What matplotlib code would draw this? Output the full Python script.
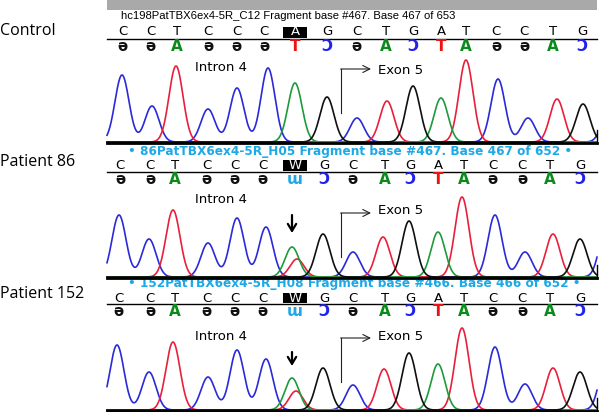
import numpy as np
import matplotlib.pyplot as plt
from matplotlib.patches import Rectangle

# ---------------- data ----------------
panel_labels = ["Control", "Patient 86", "Patient 152"]
headers = ["hc198PatTBX6ex4-5R_C12 Fragment base #467. Base 467 of 653",
           "\u2022 86PatTBX6ex4-5R_H05 Fragment base #467. Base 467 of 652 \u2022",
           "\u2022 152PatTBX6ex4-5R_H08 Fragment base #466. Base 466 of 652 \u2022"]

calls_control = list("CCTCCCAGCTGATCCTG")
calls_patient = list("CCTCCCWGCTGATCCTG")

# base-call scan positions
ctrl_call_pos = [123, 151, 177, 208, 237, 264, 295, 327, 357, 386, 413, 441, 466, 496, 524, 553, 582]
p86_call_pos = [120, 150, 175, 207, 235, 263, 295, 324, 353, 385, 410, 438, 464, 493, 522, 550, 580]
p152_call_pos = [119, 150, 175, 207, 235, 263, 295, 324, 353, 385, 410, 438, 464, 493, 522, 550, 580]

# trace peaks (base, scan position, signal height)
ctrl_peak_base = list("CCTCCCAGCTGATCCTGC")
ctrl_peak_pos = [122, 152, 176, 208, 237, 268, 295, 327, 357, 387, 413, 441, 466, 498, 528, 557, 583, 610]
ctrl_peak_h = [67, 36, 76, 33, 54, 74, 59, 45, 24, 41, 56, 44, 82, 63, 24, 43, 38, 40]

p86_peak_base = list("CCTCCCATGCTGATCCTGC")
p86_peak_pos = [119, 149, 173, 208, 237, 266, 292, 297, 323, 353, 383, 409, 438, 462, 495, 525, 553, 580, 607]
p86_peak_h = [62, 38, 67, 34, 59, 50, 30, 18, 43, 25, 40, 56, 45, 80, 62, 25, 43, 38, 55]

p152_peak_base = list("CCTCCCATGCTGATCCTGC")
p152_peak_pos = [117, 149, 173, 208, 237, 266, 292, 296, 323, 353, 384, 409, 438, 462, 495, 525, 553, 580, 607]
p152_peak_h = [65, 38, 68, 33, 60, 51, 32, 19, 42, 25, 41, 57, 46, 82, 63, 26, 42, 38, 55]

# ---------------- styles ----------------
trace_col = {"C": "#2a2ad8", "T": "#e8203a", "A": "#1f9a3a", "G": "#101010"}
comp = {"C": ("\u0259", "#111111"), "T": ("A", "#0a8a1a"), "A": ("T", "#ee1111"),
        "G": ("\u0186", "#2222ee"), "W": ("\u026f", "#1fa6e6")}
cyan = "#1ca9e6"

fig = plt.figure(figsize=(6, 4.12), dpi=100)
ax = fig.add_axes([0, 0, 1, 1])
ax.set_xlim(0, 600)
ax.set_ylim(412, 0)
ax.axis("off")

X0, X1 = 107, 597
panels = [
    dict(label_y=31, head_y=16, up_y=31.5, line_y=39, low_y=46.5, base_y=142, box=(26.5, 37.5),
         calls=calls_control, cpos=ctrl_call_pos, pb=ctrl_peak_base, pp=ctrl_peak_pos, ph=ctrl_peak_h,
         intron_y=67, exon_y=70, bend=(113, 69), down=None),
    dict(label_y=162, head_y=151, up_y=165.5, line_y=172, low_y=179, base_y=277, box=(160, 171),
         calls=calls_patient, cpos=p86_call_pos, pb=p86_peak_base, pp=p86_peak_pos, ph=p86_peak_h,
         intron_y=199, exon_y=210, bend=(257, 213), down=(215, 233)),
    dict(label_y=294, head_y=284, up_y=298, line_y=304, low_y=311.5, base_y=410, box=(292.5, 303),
         calls=calls_patient, cpos=p152_call_pos, pb=p152_peak_base, pp=p152_peak_pos, ph=p152_peak_h,
         intron_y=337, exon_y=337, bend=(382, 338), down=(352, 366)),
]

# grey bar of control
ax.add_patch(Rectangle((X0, 0), X1 - X0, 10, color="#a9a9a9", lw=0))

xs = np.linspace(X0, X1, 2400)
sigma = 7.0
for i, P in enumerate(panels):
    # label
    ax.text(0, P["label_y"], panel_labels[i], fontsize=11.5, family="Open Sans",
            ha="left", va="center", color="black")
    # header
    if i == 0:
        ax.text(121, P["head_y"], headers[i], fontsize=8.1, family="Liberation Sans",
                ha="left", va="center", color="black")
    else:
        ax.text(128, P["head_y"], headers[i], fontsize=8.7, family="DejaVu Sans",
                fontweight="bold", ha="left", va="center", color=cyan)
    # underline
    ax.plot([X0, X1], [P["line_y"], P["line_y"]], color="black", lw=1.0)
    # highlight box
    b0, b1 = P["box"]
    ax.add_patch(Rectangle((283, b0), 24, b1 - b0, color="black", lw=0, zorder=2))
    for j, (c, x) in enumerate(zip(P["calls"], P["cpos"])):
        ax.text(x, P["up_y"], c, fontsize=9.5, family="Liberation Sans Narrow",
                ha="center", va="center", color="white" if j == 6 else "black", zorder=3)
        g, col = comp[c]
        ax.text(x, P["low_y"], g, fontsize=11, family=["Liberation Sans Narrow", "DejaVu Sans"],
                fontweight="bold", ha="center", va="center", color=col)
    # traces
    by = P["base_y"]
    for base in ["C", "T", "A", "G"]:
        sig = np.zeros_like(xs)
        for b, p, h in zip(P["pb"], P["pp"], P["ph"]):
            if b == base:
                sig += h * np.exp(-(xs - p) ** 2 / (2 * sigma ** 2))
        ax.plot(xs, by - sig, color=trace_col[base], lw=1.2)
    ax.plot([X0, X1], [by + 1, by + 1], color="black", lw=2.0, zorder=4)
    ax.plot([X1, X1], [by - 12, by + 1], color="black", lw=1.0)
    # annotations
    ax.text(195, P["intron_y"], "Intron 4", fontsize=9.5, family="DejaVu Sans",
            ha="left", va="center", color="black")
    ax.text(378, P["exon_y"], "Exon 5", fontsize=9.5, family="DejaVu Sans",
            ha="left", va="center", color="black")
    yb, yt = P["bend"]
    ax.plot([341, 341], [yb, yt], color="#222222", lw=0.8)
    ax.annotate("", xy=(371, yt), xytext=(340.6, yt),
                arrowprops=dict(arrowstyle="->,head_length=0.5,head_width=0.25",
                                color="#222222", lw=0.8, shrinkA=0, shrinkB=0))
    if P["down"] is not None:
        d0, d1 = P["down"]
        ax.annotate("", xy=(292, d1), xytext=(292, d0),
                    arrowprops=dict(arrowstyle="->,head_length=0.5,head_width=0.3",
                                    color="black", lw=1.6, shrinkA=0, shrinkB=0))

fig.savefig("out.png", dpi=100)
